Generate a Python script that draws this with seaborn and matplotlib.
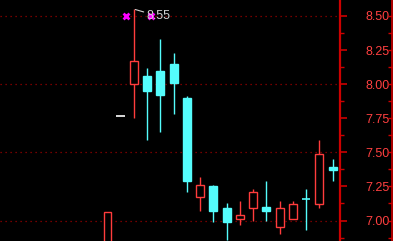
import matplotlib
matplotlib.use("Agg")
import matplotlib.pyplot as plt
import seaborn as sns
import numpy as np
import pandas as pd

# ---- data ----
day_index = list(range(18))
opens  = [6.70, 7.77, 8.00, 8.06, 8.10, 8.15, 7.90, 7.17, 7.25, 7.09, 7.01, 7.09, 7.10, 6.95, 7.01, 7.16, 7.12, 7.39]
highs  = [7.06, 7.77, 8.55, 8.12, 8.33, 8.23, 7.91, 7.32, 7.26, 7.13, 7.14, 7.23, 7.29, 7.14, 7.14, 7.23, 7.59, 7.45]
lows   = [6.65, 7.77, 7.75, 7.59, 7.65, 7.78, 7.21, 7.07, 6.99, 6.86, 6.97, 7.00, 7.00, 6.90, 7.01, 6.93, 7.09, 7.29]
closes = [7.06, 7.77, 8.17, 7.95, 7.92, 8.01, 7.29, 7.26, 7.07, 6.99, 7.04, 7.21, 7.07, 7.09, 7.12, 7.16, 7.49, 7.37]
high_label = "8.55"
high_day = 2
marker_x = [1.38, 3.29]
marker_y = [8.50, 8.50]
y_ticks = [7.00, 7.25, 7.50, 7.75, 8.00, 8.25, 8.50]
y_tick_labels = ["7.00", "7.25", "7.50", "7.75", "8.00", "8.25", "8.50"]
grid_levels = [7.00, 7.50, 8.00, 8.50]

df = pd.DataFrame({"day": day_index, "open": opens, "high": highs, "low": lows, "close": closes})

# ---- style ----
sns.set_style("dark", {"axes.facecolor": "black", "figure.facecolor": "black",
                       "axes.grid": False})
plt.rcParams['font.family'] = ['Liberation Sans', 'DejaVu Sans']

RED = "#ff3c3c"
CYAN = "#54fcfc"
AXRED = "#cc0000"
GRID = "#9a0000"

fig = plt.figure(figsize=(3.93, 2.41), dpi=100)
ax = fig.add_axes([0, 0, 340 / 393, 1])
ax.set_facecolor("black")

ax.set_xlim(-8.12, 17.56)
ax.set_ylim(6.850, 8.617)

# grid lines
for g in grid_levels:
    ax.axhline(g, color=GRID, lw=0.9, linestyle=(0, (1, 3)), zorder=1)

w = 0.60
for _, r in df.iterrows():
    x, o, h, l, c = r["day"], r["open"], r["high"], r["low"], r["close"]
    if c > o:
        col = RED
    elif c < o:
        col = CYAN
    else:
        col = CYAN if h > l else "white"
    if h > l:
        ax.vlines(x, l, h, color=col, lw=1.0, zorder=2)
    if c > o:
        ax.bar(x, c - o, bottom=o, width=w, facecolor="black", edgecolor=col, lw=1.0, zorder=3)
    elif c < o:
        ax.bar(x, o - c, bottom=c, width=w, facecolor=col, edgecolor=col, lw=1.0, zorder=3)
    else:
        ax.hlines(o, x - w / 2 - 0.03, x + w / 2 + 0.03, color=col, lw=1.2, zorder=3)

# markers
sns.scatterplot(x=marker_x, y=marker_y, marker="x", color="#ff00ff", s=18,
                linewidth=2.0, ax=ax, zorder=4, legend=False)

# high annotation
ax.annotate(high_label, xy=(high_day, highs[high_day]), xytext=(2.98, 8.497),
            color="#d0d0d0", fontsize=9, va="center", ha="left", zorder=5,
            arrowprops=dict(arrowstyle="-", color="#d0d0d0", lw=0.8,
                            shrinkA=0, shrinkB=1))

# right axis
ax.yaxis.tick_right()
ax.set_yticks(y_ticks)
ax.set_yticklabels(y_tick_labels)
ax.set_yticks(np.arange(6.875, 8.62, 0.25), minor=True)
ax.tick_params(axis="y", which="major", colors=AXRED, length=5, width=1.2,
               labelcolor="#ff4040", labelsize=9, pad=13, direction="out")
ax.tick_params(axis="y", which="minor", colors=AXRED, length=3, width=1.0, direction="out")
ax.set_xticks([])
for s in ["top", "bottom", "left"]:
    ax.spines[s].set_visible(False)
ax.spines["right"].set_color(AXRED)
ax.spines["right"].set_linewidth(1.6)

# right border line with inward ticks
ax2 = fig.add_axes([0, 0, 392 / 393, 1], facecolor="none")
ax2.set_ylim(ax.get_ylim())
ax2.set_xlim(0, 1)
ax2.yaxis.tick_right()
ax2.set_yticks(y_ticks)
ax2.set_yticklabels([])
ax2.set_yticks(np.arange(6.875, 8.62, 0.25), minor=True)
ax2.tick_params(axis="y", which="both", colors=AXRED, length=3, width=1.0, direction="in")
ax2.set_xticks([])
for s in ["top", "bottom", "left"]:
    ax2.spines[s].set_visible(False)
ax2.spines["right"].set_color(AXRED)
ax2.spines["right"].set_linewidth(1.2)

fig.savefig("out.png", dpi=100, facecolor="black")
